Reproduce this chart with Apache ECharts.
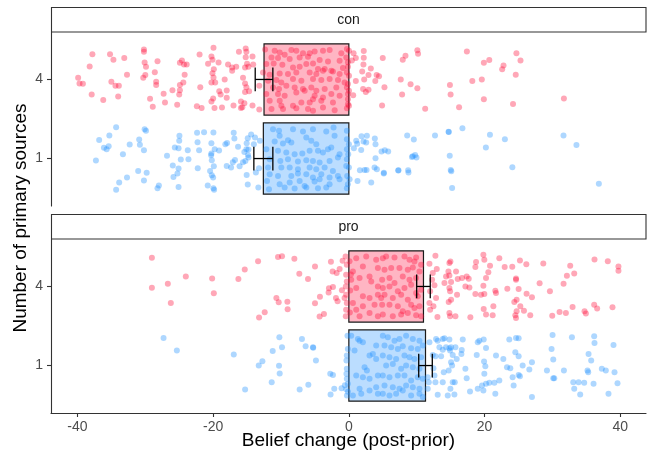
<!DOCTYPE html>
<html>
<head>
<meta charset="utf-8">
<script src="https://cdn.jsdelivr.net/npm/echarts@6/dist/echarts.min.js"></script>
<style>
  html, body { margin: 0; padding: 0; background: #fff; }
  #chart { width: 651px; height: 456px; }
</style>
</head>
<body>
<div id="chart"></div>
<script>
// rows: "1" sits at y=1, "4" sits at y=2
const rowLabels = ['1', '4'];
const panels = ['con', 'pro'];
const xTicks = [-40, -20, 0, 20, 40];

// mean belief change and standard error, order: row "1", row "4"
const conMeans = [-12.6, -12.5];
const conSE = [1.4, 1.3];
const proMeans = [11.3, 11.0];
const proSE = [1.0, 1.0];

// jittered points: [belief change, vertical jitter]
const con4Points = [
  [-37.8,0.32],[-38.2,0.165],[-39.9,0.02],[-39.7,-0.05],[-39.2,-0.055],[-37.9,-0.19],[-36.2,-0.26],[-35.2,0.32],[-34.7,0.25],[-33.1,0.27],
  [-35.0,-0.03],[-34.4,-0.08],[-33.9,-0.08],[-32.7,0.06],[-34.0,-0.215],[-30.2,0.38],[-30.2,0.35],[-30.1,0.215],[-29.9,0.16],[-28.2,0.23],
  [-30.0,0.055],[-30.3,0.02],[-28.6,0.09],[-28.4,-0.03],[-28.4,-0.07],[-29.3,-0.245],[-28.9,-0.345],[-27.3,-0.18],[-27.1,-0.29],[-26.0,-0.135],
  [-25.3,-0.32],[-24.9,0.21],[-24.6,0.24],[-24.3,0.19],[-23.9,0.19],[-24.2,0.06],[-24.4,-0.04],[-24.9,-0.07],[-24.9,-0.135],[-25.0,-0.19],
  [-22.0,0.316],[-20.75,0.2],[-20.25,0.29],[-19.95,0.4],[-20.1,0.25],[-19.2,0.215],[-19.9,0.13],[-20.1,0.08],[-19.95,0.025],[-20.25,-0.04],
  [-19.7,-0.04],[-21.9,-0.1],[-19.1,-0.15],[-18.9,-0.19],[-18.0,-0.14],[-18.0,-0.23],[-20.0,-0.24],[-20.25,-0.28],[-22.4,-0.34],[-21.7,-0.36],
  [-19.8,-0.36],[-18.7,-0.355],[-18.3,0.0],[-17.8,0.19],[-17.2,0.15],[-17.2,0.11],[-16.6,0.16],[-16.2,0.35],[-15.2,0.39],[-15.1,0.35],
  [-15.2,0.28],[-14.2,0.29],[-15.3,0.15],[-15.0,0.2],[-14.8,0.16],[-14.1,0.19],[-15.6,0.02],[-15.3,-0.05],[-15.1,-0.1],[-15.3,-0.16],
  [-14.7,-0.15],[-13.2,-0.08],[-17.0,-0.33],[-15.9,-0.28],[-15.7,-0.35],[-15.4,-0.3],[-14.2,-0.33],[-13.2,-0.38],[-15.9,-0.36],
  [-12.35,0.38],[-10.93,0.363],[-10.19,0.342],[-9.46,0.313],[-8.47,0.372],[-7.74,0.363],[-6.76,0.33],[-5.77,0.33],[-5.04,0.355],[-3.81,0.363],
  [-2.83,0.372],[-1.11,0.33],[-0.28,0.384],[-11.4,0.279],[-10.44,0.27],[-8.72,0.258],[-7.25,0.279],[-6.02,0.287],[-4.3,0.245],[-3.07,0.228],
  [-1.36,0.237],[-0.37,0.279],[-12.16,0.194],[-11.08,0.203],[-9.8,0.186],[-8.23,0.152],[-7.25,0.16],[-6.27,0.194],[-5.28,0.203],[-4.55,0.131],
  [-3.56,0.131],[-2.58,0.11],[-0.87,0.144],[-0.13,0.16],[-12.65,0.089],[-11.67,0.059],[-10.19,0.076],[-8.97,0.068],[-7.74,0.089],[-5.77,0.089],
  [-4.79,0.068],[-3.81,0.11],[-2.34,0.102],[-1.36,0.068],[-0.28,0.089],[-11.9,-0.017],[-10.68,-0.008],[-9.95,-0.038],[-8.23,0.005],[-7.0,-0.017],
  [-5.28,0.005],[-4.06,-0.008],[-2.83,0.005],[-1.6,-0.008],[-0.62,-0.038],[-11.17,-0.101],[-10.29,-0.122],[-9.21,-0.08],[-7.98,-0.101],[-6.76,-0.122],
  [-5.53,-0.101],[-4.79,-0.143],[-3.56,-0.122],[-1.85,-0.101],[-0.28,-0.101],[-12.16,-0.185],[-10.44,-0.185],[-9.46,-0.206],[-7.74,-0.164],[-6.51,-0.143],
  [-5.04,-0.206],[-3.81,-0.228],[-2.58,-0.185],[-1.36,-0.206],[-0.13,-0.185],[-11.67,-0.27],[-10.19,-0.27],[-9.95,-0.333],[-8.23,-0.333],[-7.0,-0.291],
  [-5.77,-0.291],[-5.28,-0.249],[-4.06,-0.27],[-2.34,-0.291],[-0.13,-0.312],[-11.4,-0.375],[-9.7,-0.375],[-7.74,-0.363],[-6.02,-0.375],[-5.28,-0.396],
  [-3.81,-0.354],[-2.09,-0.388],[-0.28,-0.363],[0.02,0.363],[-0.13,0.216],[0.02,0.047],[-0.13,-0.059],[0.02,-0.143],[-0.13,-0.249],[0.02,-0.333],
  [2.2,0.36],[2.2,0.275],[2.15,0.19],[1.03,0.27],[0.7,0.33],[0.45,0.24],[5.0,0.27],[7.95,0.25],[8.35,0.3],[10.1,0.37],
  [10.2,0.325],[17.4,0.355],[3.24,0.14],[1.97,0.1],[2.9,0.055],[2.26,0.0],[1.03,-0.02],[3.9,-0.02],[4.1,0.055],[4.45,0.04],
  [5.25,-0.1],[2.1,-0.12],[2.9,-0.13],[2.5,-0.16],[0.64,-0.2],[4.9,-0.33],[7.65,0.0],[9.1,-0.06],[10.1,-0.11],[7.85,-0.19],
  [11.25,-0.37],[14.9,-0.07],[15.0,-0.19],[16.25,-0.35],[24.7,0.33],[25.3,0.24],[20.7,0.245],[19.9,0.21],[22.8,0.175],[22.6,0.13],
  [24.6,0.06],[18.2,-0.02],[19.6,0.0],[19.9,-0.25],[24.2,-0.31],[31.7,-0.24]
];

const con1Points = [
  [-37.28,-0.025],[-36.8,0.236],[-36.1,0.135],[-35.7,0.118],[-35.4,0.156],[-35.3,0.291],[-34.3,0.397],[-33.3,0.055],[-32.3,0.177],[-33.85,-0.304],
  [-34.3,-0.393],[-32.7,-0.24],[-31.05,-0.156],[-30.9,0.24],[-30.8,0.173],[-30.1,0.371],[-29.9,0.35],[-30.2,0.105],[-29.8,-0.18],[-30.2,-0.279],
  [-28.2,-0.376],[-28.0,-0.342],[-26.8,0.034],[-25.95,-0.089],[-25.65,0.139],[-25.1,0.13],[-24.97,0.287],[-25.0,0.224],[-24.77,-0.013],[-25.1,-0.127],
  [-25.26,-0.19],[-25.85,-0.232],[-25.1,-0.359],[-23.74,0.105],[-23.64,-0.008],[-22.37,0.325],[-21.34,0.333],[-19.96,0.329],[-22.3,0.207],[-22.07,0.105],
  [-22.27,-0.123],[-20.26,0.194],[-19.77,0.118],[-20.26,0.063],[-20.3,0.042],[-19.13,0.101],[-20.2,-0.021],[-19.9,-0.097],[-20.45,-0.156],[-20.2,-0.211],
  [-20.0,-0.24],[-20.8,-0.342],[-19.96,-0.376],[-19.86,-0.393],[-18.2,0.181],[-17.95,0.198],[-16.97,0.325],[-16.87,0.253],[-16.33,0.148],[-18.0,-0.093],
  [-17.36,-0.114],[-17.1,-0.046],[-16.78,-0.017],[-16.1,-0.097],[-15.4,0.084],[-15.1,0.118],[-15.06,0.194],[-14.9,0.257],[-14.4,0.304],[-13.83,0.266],
  [-14.0,0.181],[-13.1,0.224],[-14.8,0.114],[-14.8,0.013],[-15.6,-0.046],[-15.25,-0.03],[-14.86,0.046],[-15.06,-0.207],[-14.9,-0.329],[-13.7,-0.177],
  [-13.34,-0.367],[-13.24,-0.122],
  [-11.18,0.371],[-10.29,0.35],[-10.2,0.287],[-8.23,0.371],[-6.76,0.342],[-5.29,0.371],[-3.33,0.342],[-2.25,0.392],[-2.1,0.287],[-0.29,0.35],
  [-10.93,0.215],[-9.71,0.19],[-8.97,0.232],[-8.48,0.202],[-6.27,0.266],[-5.54,0.224],[-4.8,0.181],[-3.08,0.118],[-1.37,0.055],[-0.29,0.245],
  [-12.16,0.118],[-10.44,0.097],[-9.22,0.076],[-7.99,0.055],[-6.86,0.063],[-5.78,0.097],[-4.55,0.097],[-3.82,0.076],[-2.59,0.139],[-0.29,0.118],
  [-11.67,-0.008],[-10.1,-0.03],[-8.97,-0.008],[-7.5,-0.038],[-6.27,-0.021],[-5.29,-0.03],[-4.31,-0.051],[-2.84,-0.03],[-1.61,0.013],[-0.29,-0.008],
  [-11.91,-0.114],[-9.95,-0.114],[-8.72,-0.114],[-7.5,-0.135],[-5.78,-0.114],[-4.8,-0.135],[-3.57,-0.114],[-2.35,-0.156],[-0.38,-0.093],
  [-11.67,-0.198],[-10.44,-0.22],[-8.48,-0.22],[-7.5,-0.19],[-6.27,-0.198],[-5.29,-0.241],[-4.06,-0.198],[-2.84,-0.241],[-1.61,-0.22],[-0.24,-0.22],
  [-12.06,-0.283],[-10.2,-0.325],[-8.72,-0.304],[-7.25,-0.283],[-6.52,-0.346],[-5.05,-0.291],[-4.31,-0.262],[-2.84,-0.325],[-1.37,-0.262],[-0.14,-0.325],
  [-11.77,-0.388],[-9.46,-0.367],[-7.99,-0.38],[-6.27,-0.367],[-4.55,-0.376],[-3.33,-0.367],[-0.29,-0.376],[0.01,0.181],[0.01,-0.114],[-0.09,0.055],
  [0.11,-0.262],
  [0.74,0.131],[1.09,0.224],[1.23,0.186],[1.87,0.283],[2.17,0.215],[2.66,0.287],[3.83,0.253],[3.93,0.181],[1.82,0.109],[2.56,0.202],
  [4.82,0.089],[5.3,0.105],[5.8,0.089],[3.93,0.004],[1.63,-0.148],[2.31,-0.144],[2.61,-0.144],[3.79,-0.114],[4.13,-0.135],[5.16,-0.181],
  [7.32,-0.148],[8.74,-0.148],[8.79,-0.177],[1.28,-0.283],[3.3,-0.304],[8.6,0.291],[9.58,0.24],[12.7,0.291],[14.73,0.337],[16.74,0.384],
  [9.43,0.029],[9.77,0.046],[9.97,0.013],[14.87,0.034],[15.02,-0.144],[15.22,-0.371],[31.64,0.29],[33.55,0.17],[36.85,-0.32],[24.1,-0.11],
  [20.2,0.14],[23.0,0.245],[20.8,0.30],[7.27,-0.15],[5.15,-0.19],[9.3,0.02],[15.1,-0.16],[14.7,0.34]
];

const pro4Points = [
  [-29.03,0.362],[-29.03,-0.016],[-26.68,0.035],[-26.24,-0.209],[-24.03,0.127],[-20.15,0.102],[-19.9,-0.087],[-16.28,0.093],[-15.34,0.215],[-13.38,0.32],
  [-10.44,0.371],[-9.85,0.383],[-8.03,0.35],[-13.23,-0.394],[-12.4,-0.327],[-10.68,-0.146],[-10.34,-0.2],[-9.06,-0.192],[-9.02,-0.289],[-7.3,0.16],
  [-6.02,0.093],[-4.99,0.253],[-4.26,-0.129],[-4.99,-0.213],[-4.31,-0.381],[-3.67,-0.348],[-2.98,-0.075],[-2.93,-0.024],[-2.34,-0.007],[-2.64,0.312],
  [-2.39,0.19],[-1.8,0.169],[-1.36,0.22],[-0.92,0.324],[-1.02,-0.049],[-1.9,-0.146],[-1.66,-0.188],[-0.63,-0.146],[-0.48,0.379],
  [-0.3,0.274],[-0.4,0.148],[-0.3,0.064],[-0.45,0.0],[-0.4,-0.104],[-0.3,-0.209],[-0.4,-0.293],[-0.45,-0.377],
  [1.09,0.358],[2.56,0.379],[4.03,0.337],[2.07,0.253],[3.05,0.127],[4.28,0.232],[0.6,0.19],[1.58,0.106],[3.3,0.064],[4.28,0.001],
  [1.09,-0.02],[2.07,-0.125],[3.05,-0.146],[4.28,-0.104],[0.6,-0.209],[2.07,-0.251],[3.79,-0.23],[1.58,-0.377],[3.05,-0.335],[4.28,-0.377],
  [0.35,0.085],[1.09,-0.293],[0.1,0.32],[0.2,-0.05],[0.15,-0.33],[0.3,0.15],
  [5.01,0.358],[5.5,0.379],[6.73,0.366],[8.2,0.379],[8.94,0.337],[9.67,0.316],[9.92,0.366],[10.65,0.274],[5.26,0.211],[6.24,0.232],
  [7.46,0.232],[8.69,0.211],[9.43,0.24],[10.41,0.19],[4.91,0.085],[5.99,0.106],[6.73,0.043],[7.95,0.127],[8.94,0.085],[9.92,0.106],
  [5.01,-0.02],[5.99,0.001],[7.22,-0.062],[8.2,-0.02],[9.18,0.022],[9.92,-0.083],[10.65,-0.041],[4.77,-0.146],[5.26,-0.104],[6.48,-0.146],
  [7.71,-0.104],[8.69,-0.167],[10.16,-0.125],[4.91,-0.23],[5.99,-0.23],[7.22,-0.251],[7.95,-0.314],[9.18,-0.23],[9.67,-0.272],[10.41,-0.251],
  [5.01,-0.356],[6.48,-0.377],[7.71,-0.356],[8.69,-0.335],[9.92,-0.364],[10.65,-0.377],
  [11.88,0.287],[12.76,0.387],[12.96,0.22],[12.37,0.169],[12.27,0.085],[12.62,0.014],[11.98,-0.062],[12.86,-0.146],[11.88,-0.209],[12.47,-0.251],
  [11.98,-0.293],[13.06,-0.385],[14.97,0.316],[14.82,0.295],[14.68,0.19],[15.8,0.19],[14.33,0.127],[14.82,0.14],[14.09,0.043],[15.07,0.056],
  [16.05,0.093],[16.69,0.106],[17.37,0.127],[17.67,0.098],[14.82,-0.02],[14.92,-0.062],[15.95,-0.104],[15.07,-0.167],[14.72,-0.196],[14.82,-0.335],
  [14.92,-0.377],[15.71,-0.377],[17.18,0.0],[17.77,-0.012],[18.65,-0.096],[17.91,-0.39],[18.75,0.308],[18.65,0.245],[19.83,0.4],[19.97,0.337],
  [20.81,0.261],[20.56,0.18],[20.22,0.106],[19.83,0.01],[19.97,-0.096],[19.48,-0.104],[21.59,-0.054],[21.69,-0.083],[21.3,-0.251],[19.88,-0.285],
  [20.22,-0.356],[21.2,-0.364],[22.18,0.358],[22.97,0.245],[24.09,0.249],[23.36,-0.028],[24.64,0.085],[24.64,0.1],[25.03,-0.033],[25.22,0.329],
  [26.16,0.282],[26.2,-0.091],[26.99,-0.138],[24.39,-0.196],[24.73,-0.167],[25.27,-0.251],[25.81,-0.306],[24.73,-0.314],[24.54,-0.364],[24.64,-0.398],
  [26.74,-0.364],[28.12,0.039],[28.66,0.291],[29.64,-0.062],[29.98,-0.369],[31.06,-0.322],[31.99,-0.335],[31.65,0.035],[32.14,0.135],[32.63,0.261],
  [33.22,0.165],[32.98,-0.259],[34.74,-0.314],[34.94,-0.343],[36.21,0.341],[36.16,-0.23],[36.6,-0.28],[38.17,0.32],[38.86,-0.264],[39.74,0.253],
  [39.74,0.198]
];

const pro1Points = [
  [-27.31,0.349],[-25.35,0.189],[-16.96,0.139],[-15.29,-0.302],[-13.28,0.0],[-12.74,0.055],[-11.37,-0.21],[-11.22,0.185],[-10.24,0.357],[-9.85,0.231],
  [-10.29,-0.004],[-10.19,-0.101],[-7.25,-0.302],[-6.91,0.336],[-6.37,0.244],[-5.29,0.231],[-5.25,0.226],[-4.85,0.063],[-5.97,-0.244],[-2.74,-0.105],
  [-2.34,-0.118],[-2.69,-0.365],[-2.15,-0.294],[-1.07,-0.286],[-0.58,-0.25],[-0.38,-0.3],[-0.28,-0.38],[-0.13,-0.33],
  [-0.2,0.378],[-0.15,0.21],[-0.3,0.126],[-0.35,0.063],[-0.3,-0.042],[-0.35,-0.105],[-0.3,-0.168],[-0.15,-0.231],
  [0.35,0.378],[1.34,0.336],[2.07,0.294],[1.58,0.315],[3.05,0.126],[4.03,0.084],[2.32,-0.021],[2.66,-0.063],[2.07,-0.147],[3.05,-0.168],
  [1.09,-0.126],[4.28,-0.126],[1.58,-0.294],[1.83,-0.357],[3.05,-0.315],[4.03,-0.273],[0.6,-0.378],[4.28,-0.357],[0.84,0.189],[3.54,0.147],
  [4.03,0.252],
  [5.01,0.378],[5.75,0.357],[6.73,0.315],[7.46,0.336],[8.44,0.378],[9.43,0.336],[10.41,0.315],[5.26,0.252],[6.24,0.231],[7.22,0.21],
  [7.95,0.244],[9.18,0.218],[10.16,0.21],[10.9,0.252],[5.01,0.126],[5.99,0.105],[6.97,0.084],[8.2,0.126],[8.94,0.105],[9.67,0.084],
  [10.65,0.105],[5.5,0.0],[6.48,0.021],[7.71,-0.042],[8.44,0.0],[9.43,-0.021],[10.41,-0.042],[5.01,-0.126],[5.99,-0.147],[7.22,-0.126],
  [8.2,-0.126],[9.18,-0.189],[10.16,-0.147],[10.9,-0.168],[5.26,-0.252],[6.48,-0.273],[7.46,-0.294],[8.44,-0.252],[9.43,-0.273],[10.41,-0.294],
  [5.01,-0.357],[5.99,-0.378],[6.97,-0.357],[7.95,-0.315],[9.18,-0.378],[10.41,-0.357],[10.9,-0.399],
  [11.88,0.294],[12.86,0.336],[13.1,0.315],[13.84,0.336],[14.09,0.344],[14.82,0.328],[13.35,0.231],[14.33,0.231],[14.82,0.218],[15.07,0.231],
  [15.71,0.231],[13.84,0.2],[12.37,0.134],[12.76,0.118],[13.6,0.118],[14.92,0.189],[15.31,0.134],[15.9,0.084],[15.07,0.042],[15.22,0.0],
  [14.72,-0.063],[13.99,-0.084],[12.47,-0.034],[12.62,-0.126],[11.63,-0.147],[11.78,-0.21],[12.76,-0.21],[13.84,-0.21],[15.31,-0.21],[15.61,-0.21],
  [11.63,-0.294],[13.1,-0.37],[14.58,-0.378],[15.56,-0.365],[14.97,-0.294],[16.79,0.328],[16.64,0.197],[16.59,0.147],[17.18,-0.042],[17.37,-0.16],
  [17.86,-0.328],[19.0,0.294],[19.24,0.315],[18.85,0.134],[19.0,-0.294],[19.88,0.328],[20.22,0.223],[19.93,0.05],[20.12,-0.008],[19.97,-0.105],
  [19.63,-0.252],[19.83,-0.315],[20.22,-0.231],[20.71,-0.218],[21.45,-0.218],[22.18,-0.189],[21.59,-0.357],[21.69,0.126],[22.77,0.084],[23.31,-0.021],
  [23.8,-0.034],[23.65,0.328],[24.64,0.349],[25.03,0.344],[24.54,0.168],[25.03,0.118],[25.62,0.0],[24.14,-0.147],[25.03,-0.118],[25.22,-0.134],
  [24.29,-0.252],[26.6,-0.05],[26.99,0.042],[26.99,-0.399],[29.2,-0.063],[29.88,0.21],[30.03,0.386],[30.13,0.076],[30.28,-0.16],[30.13,-0.16],
  [31.7,-0.063],[32.88,0.357],[33.08,-0.21],[33.22,-0.294],[33.86,-0.21],[34.69,-0.218],[34.1,-0.365],[35.18,-0.063],[35.28,-0.084],[35.33,0.147],
  [35.72,0.063],[36.07,-0.231],[36.16,0.37],[36.21,0.286],[37.29,-0.042],[37.88,-0.063],[39.01,0.26],[39.16,-0.084],[39.6,-0.223],[38.27,-0.357]
];

const RED = '#ff0a37';
const BLUE = '#1e90ff';
const FONT = '"Liberation Sans", Arial, sans-serif';

var chart = echarts.init(document.getElementById('chart'));

// row 1 -> y=1 (blue), row 4 -> y=2 (red)
function barData(means, se) {
  return means.map(function (m, i) { return [m, i + 1, se[i], i]; });
}
function pointData(points, row) {
  return points.map(function (p) { return [p[0], row + p[1]]; });
}

function renderBar(params, api) {
  var x = api.value(0), y = api.value(1);
  var a = api.coord([0, y + 0.45]);
  var b = api.coord([x, y - 0.45]);
  var c = api.value(3) === 0 ? BLUE : RED;
  return {
    type: 'rect',
    shape: { x: Math.min(a[0], b[0]), y: a[1], width: Math.abs(b[0] - a[0]), height: b[1] - a[1] },
    style: { fill: echarts.color.modifyAlpha(c, 0.3), stroke: '#1a1a1a', lineWidth: 1.2 }
  };
}

function renderErr(params, api) {
  var m = api.value(0), y = api.value(1), s = api.value(2);
  var l = api.coord([m - s, y]), r = api.coord([m + s, y]);
  var top = api.coord([m, y + 0.15])[1], bot = api.coord([m, y - 0.15])[1];
  var st = { stroke: '#000', lineWidth: 1.3 };
  return {
    type: 'group',
    children: [
      { type: 'line', shape: { x1: l[0], y1: l[1], x2: r[0], y2: r[1] }, style: st },
      { type: 'line', shape: { x1: l[0], y1: top, x2: l[0], y2: bot }, style: st },
      { type: 'line', shape: { x1: r[0], y1: top, x2: r[0], y2: bot }, style: st }
    ]
  };
}

function xAxisFor(i, showBottom) {
  return {
    gridIndex: i, type: 'value', min: -43.9, max: 43.8,
    splitLine: { show: false },
    axisLine: { show: showBottom, onZero: false, lineStyle: { color: '#333', width: 1.1 } },
    axisTick: { show: showBottom, length: 4, customValues: xTicks, lineStyle: { color: '#333', width: 1.1 } },
    axisLabel: { show: showBottom, customValues: xTicks, margin: 7, fontSize: 14, color: '#4d4d4d', fontFamily: FONT }
  };
}
function yAxisFor(i) {
  return {
    gridIndex: i, type: 'value', min: 0.4, max: 2.6,
    splitLine: { show: false },
    axisLine: { show: true, onZero: false, lineStyle: { color: '#333', width: 1.1 } },
    axisTick: { show: true, length: 4, customValues: [1, 2], lineStyle: { color: '#333', width: 1.1 } },
    axisLabel: {
      customValues: [1, 2], margin: 8, fontSize: 14, color: '#4d4d4d', fontFamily: FONT,
      formatter: function (v) { return rowLabels[Math.round(v) - 1]; }
    }
  };
}

function pointSeries(idx, points, row, color) {
  return {
    type: 'scatter', xAxisIndex: idx, yAxisIndex: idx,
    data: pointData(points, row), symbolSize: 6, silent: true,
    itemStyle: { color: color, opacity: 0.36 }, z: 3
  };
}

var gridTops = [32, 239];
var stripTops = [7.5, 214.5];

var graphics = [];
panels.forEach(function (name, i) {
  graphics.push({
    type: 'rect', shape: { x: 51.5, y: stripTops[i], width: 594.5, height: gridTops[i] - stripTops[i] },
    style: { fill: '#fff', stroke: '#333', lineWidth: 1.1 }
  });
  graphics.push({
    type: 'text', x: 348.5, y: (stripTops[i] + gridTops[i]) / 2 + 0.5,
    style: { text: name, fontSize: 14, fontFamily: FONT, fill: '#1a1a1a', align: 'center', verticalAlign: 'middle' }
  });
});
graphics.push({
  type: 'text', x: 348.5, y: 441,
  style: { text: 'Belief change (post-prior)', fontSize: 19, fontFamily: FONT, fill: '#000', align: 'center', verticalAlign: 'middle' }
});
graphics.push({
  type: 'text', x: 21, y: 218, rotation: Math.PI / 2,
  style: { text: 'Number of primary sources', fontSize: 19, fontFamily: FONT, fill: '#000', align: 'center', verticalAlign: 'middle' }
});

chart.setOption({
  animation: false,
  backgroundColor: '#fff',
  grid: [
    { left: 51, right: 5, top: gridTops[0], height: 174 },
    { left: 51, right: 5, top: gridTops[1], height: 174 }
  ],
  xAxis: [xAxisFor(0, false), xAxisFor(1, true)],
  yAxis: [yAxisFor(0), yAxisFor(1)],
  graphic: graphics,
  series: [
    { type: 'custom', xAxisIndex: 0, yAxisIndex: 0, renderItem: renderBar, data: barData(conMeans, conSE), z: 2 },
    { type: 'custom', xAxisIndex: 1, yAxisIndex: 1, renderItem: renderBar, data: barData(proMeans, proSE), z: 2 },
    pointSeries(0, con4Points, 2, RED),
    pointSeries(0, con1Points, 1, BLUE),
    pointSeries(1, pro4Points, 2, RED),
    pointSeries(1, pro1Points, 1, BLUE),
    { type: 'custom', xAxisIndex: 0, yAxisIndex: 0, renderItem: renderErr, data: barData(conMeans, conSE), z: 4 },
    { type: 'custom', xAxisIndex: 1, yAxisIndex: 1, renderItem: renderErr, data: barData(proMeans, proSE), z: 4 }
  ]
});

window.onresize = function () { chart.resize(); };
</script>
</body>
</html>
